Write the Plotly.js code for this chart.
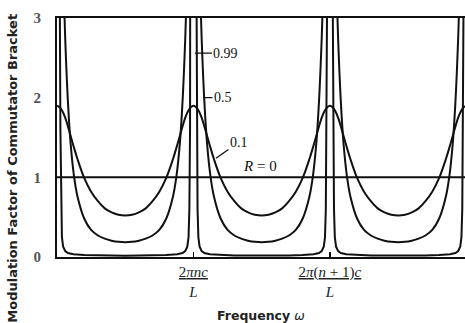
<!DOCTYPE html>
<html>
<head>
<meta charset="utf-8">
<script src="https://cdn.plot.ly/plotly-3.0.1.min.js"></script>
<style>html,body{margin:0;padding:0;background:#fff;}#chart{width:465px;height:323px;}</style>
</head>
<body>
<div id="chart"></div>
<script>
// Frequency in units of the mode spacing 2πc/L (peaks at n, n+1, ...)
const freqA = [0,0.02,0.04,0.06,0.08,0.10,0.125,0.15,0.20,0.25,0.30,0.35,0.40,0.45,0.50,0.55,0.60,0.65,0.70,0.75,0.80,0.85,0.875,0.90,0.92,0.94,0.96,0.98,
  1,1.02,1.04,1.06,1.08,1.10,1.125,1.15,1.20,1.25,1.30,1.35,1.40,1.45,1.50,1.55,1.60,1.65,1.70,1.75,1.80,1.85,1.875,1.90,1.92,1.94,1.96,1.98,
  2,2.02,2.04,2.06,2.08,2.10,2.125,2.15,2.20,2.25,2.30,2.35,2.40,2.45,2.50,2.55,2.60,2.65,2.70,2.75,2.80,2.85,2.875,2.90,2.92,2.94,2.96,2.98,3];

const r01 = [1.90,1.88,1.83,1.75,1.64,1.52,1.37,1.23,0.99,0.82,0.70,0.61,0.56,0.53,0.52,0.53,0.56,0.61,0.70,0.82,0.99,1.23,1.37,1.52,1.64,1.75,1.83,1.88,
  1.90,1.88,1.83,1.75,1.64,1.52,1.37,1.23,0.99,0.82,0.70,0.61,0.56,0.53,0.52,0.53,0.56,0.61,0.70,0.82,0.99,1.23,1.37,1.52,1.64,1.75,1.83,1.88,
  1.90,1.88,1.83,1.75,1.64,1.52,1.37,1.23,0.99,0.82,0.70,0.61,0.56,0.53,0.52,0.53,0.56,0.61,0.70,0.82,0.99,1.23,1.37,1.52,1.64,1.75,1.83,1.88,1.90];

const r05 = [6.0,5.1,3.85,2.75,1.95,1.42,1.01,0.76,0.48,0.34,0.27,0.23,0.205,0.19,0.185,0.19,0.205,0.23,0.27,0.34,0.48,0.76,1.01,1.42,1.95,2.75,3.85,5.1,
  6.0,5.1,3.85,2.75,1.95,1.42,1.01,0.76,0.48,0.34,0.27,0.23,0.205,0.19,0.185,0.19,0.205,0.23,0.27,0.34,0.48,0.76,1.01,1.42,1.95,2.75,3.85,5.1,
  6.0,5.1,3.85,2.75,1.95,1.42,1.01,0.76,0.48,0.34,0.27,0.23,0.205,0.19,0.185,0.19,0.205,0.23,0.27,0.34,0.48,0.76,1.01,1.42,1.95,2.75,3.85,5.1,6.0];

const freqB = [0,0.012,0.02,0.025,0.03,0.036,0.045,0.06,0.08,0.12,0.20,0.30,0.40,0.50,0.60,0.70,0.80,0.88,0.92,0.94,0.955,0.964,0.97,0.975,0.98,0.988,
  1,1.012,1.02,1.025,1.03,1.036,1.045,1.06,1.08,1.12,1.20,1.30,1.40,1.50,1.60,1.70,1.80,1.88,1.92,1.94,1.955,1.964,1.97,1.975,1.98,1.988,
  2,2.012,2.02,2.025,2.03,2.036,2.045,2.06,2.08,2.12,2.20,2.30,2.40,2.50,2.60,2.70,2.80,2.88,2.92,2.94,2.955,2.964,2.97,2.975,2.98,2.988,3];

const r099 = [40,7,3.4,1.6,0.6,0.25,0.13,0.075,0.05,0.035,0.025,0.02,0.018,0.017,0.018,0.02,0.025,0.035,0.05,0.075,0.13,0.25,0.6,1.6,3.4,7,
  40,7,3.4,1.6,0.6,0.25,0.13,0.075,0.05,0.035,0.025,0.02,0.018,0.017,0.018,0.02,0.025,0.035,0.05,0.075,0.13,0.25,0.6,1.6,3.4,7,
  40,7,3.4,1.6,0.6,0.25,0.13,0.075,0.05,0.035,0.025,0.02,0.018,0.017,0.018,0.02,0.025,0.035,0.05,0.075,0.13,0.25,0.6,1.6,3.4,7,40];

const freqR0 = [0, 3];
const r0 = [1, 1];

const tickVals = [1, 2];
const tickLabels = ['<u>2<i>πnc</i></u><br><i>L</i>', '<u>2<i>π</i>(<i>n</i> + 1)<i>c</i></u><br><i>L</i>'];
const yTicks = [0, 1, 2, 3];

const lineStyle = {color: '#111', width: 2};
const traces = [
  {x: freqR0, y: r0, mode: 'lines', line: lineStyle, name: 'R = 0'},
  {x: freqA, y: r01, mode: 'lines', line: Object.assign({shape: 'spline'}, lineStyle), name: '0.1'},
  {x: freqA, y: r05, mode: 'lines', line: Object.assign({shape: 'spline'}, lineStyle), name: '0.5'},
  {x: freqB, y: r099, mode: 'lines', line: lineStyle, name: '0.99'}
];

const serif = 'Liberation Serif, Times New Roman, serif';
const labelFont = {family: serif, size: 14, color: '#111'};

const layout = {
  width: 465, height: 323,
  margin: {l: 57, r: 0, t: 18, b: 66},
  paper_bgcolor: '#fff', plot_bgcolor: '#fff',
  showlegend: false,
  xaxis: {
    range: [0, 2.99], showgrid: false, zeroline: false,
    showline: true, linecolor: '#111', linewidth: 2, mirror: true,
    tickmode: 'array', tickvals: tickVals, ticktext: tickLabels,
    ticks: 'inside', ticklen: 5, tickwidth: 1.5, tickcolor: '#111',
    tickfont: {family: serif, size: 15, color: '#222'}
  },
  yaxis: {
    range: [0, 3], showgrid: false, zeroline: false,
    showline: true, linecolor: '#111', linewidth: 2,
    tickmode: 'array', tickvals: yTicks, ticks: '',
    ticklabelstandoff: 11,
    tickfont: {family: serif, size: 15, color: '#555', weight: 'bold'}
  },
  annotations: [
    {xref: 'x', yref: 'y', x: 1.011, y: 2.56, ax: 31, ay: 0, text: '0.99', showarrow: true,
     arrowhead: 0, arrowwidth: 1.3, arrowcolor: '#111', font: labelFont},
    {xref: 'x', yref: 'y', x: 1.07, y: 2.0, ax: 20, ay: 0, text: '0.5', showarrow: true,
     arrowhead: 0, arrowwidth: 1.3, arrowcolor: '#111', font: labelFont},
    {xref: 'x', yref: 'y', x: 1.165, y: 1.24, ax: 23, ay: -16, text: '0.1', showarrow: true,
     arrowhead: 0, arrowwidth: 1.3, arrowcolor: '#111', font: labelFont},
    {xref: 'x', yref: 'y', x: 1.349, y: 1.14, xanchor: 'left', text: '<i>R</i> = 0', showarrow: false,
     font: {family: serif, size: 15, color: '#111'}},
    {xref: 'paper', yref: 'paper', x: -0.11, y: 0.37, xanchor: 'center', yanchor: 'middle',
     textangle: -90, text: '<b>Modulation Factor of Commutator Bracket</b>', showarrow: false,
     font: {family: 'DejaVu Sans, sans-serif', size: 13, color: '#222'}},
    {xref: 'paper', yref: 'paper', x: 0.5, y: -0.245, xanchor: 'center', yanchor: 'middle',
     text: '<b>Frequency</b> <i>ω</i>', showarrow: false,
     font: {family: 'DejaVu Sans, sans-serif', size: 12.5, color: '#222'}}
  ]
};

Plotly.newPlot('chart', traces, layout, {staticPlot: true, displayModeBar: false});
</script>
</body>
</html>
